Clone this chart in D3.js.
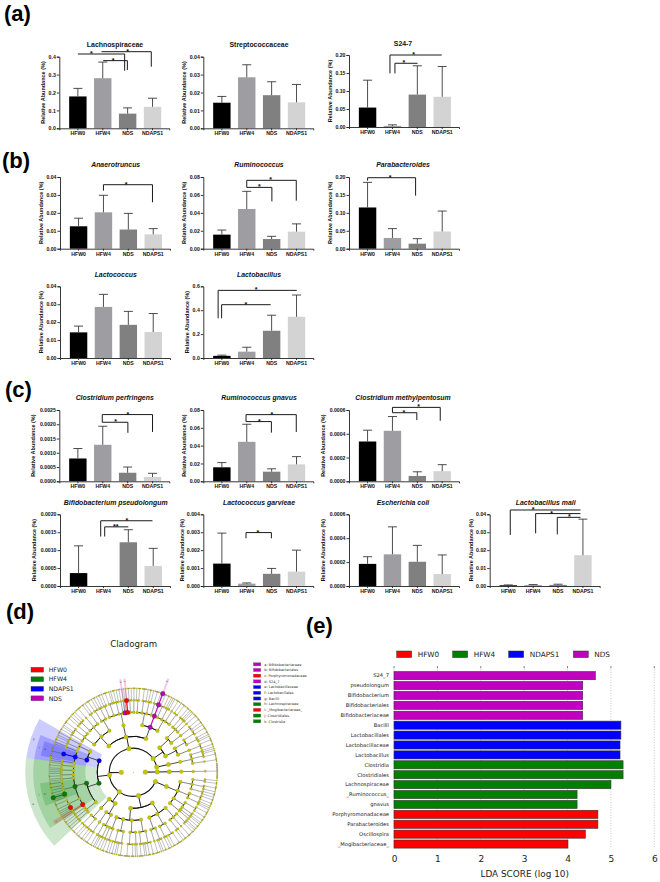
<!DOCTYPE html>
<html>
<head>
<meta charset="utf-8">
<script src="https://d3js.org/d3.v7.min.js"></script>
<style>
html,body{margin:0;padding:0;background:#fff}
svg{display:block}
text{font-family:"Liberation Sans",Arial,sans-serif}
.mpl text,text.mpl{font-family:"DejaVu Sans",sans-serif}
</style>
</head>
<body>
<svg id="fig" width="660" height="882" viewBox="0 0 660 882"></svg>
<script>
// ---------- DATA: bar charts (mean, top of the error bar) ----------
const groups = ["HFW0","HFW4","NDS","NDAPS1"];

const lachnospiraceaeMeans = [0.178,0.28,0.082,0.12];
const lachnospiraceaeTops  = [0.223,0.37,0.114,0.168];
const streptococcaceaeMeans = [0.0143,0.0285,0.0185,0.0145];
const streptococcaceaeTops  = [0.0178,0.0355,0.026,0.0245];
const s247Means = [0.054,0.003,0.09,0.084];
const s247Tops  = [0.13,0.006,0.17,0.168];
const anaerotruncusMeans = [0.0125,0.0203,0.0107,0.008];
const anaerotruncusTops  = [0.017,0.0298,0.0197,0.0112];
const ruminococcusMeans = [0.0157,0.0443,0.0108,0.019];
const ruminococcusTops  = [0.0208,0.064,0.0138,0.0277];
const parabacteroidesMeans = [0.115,0.03,0.014,0.048];
const parabacteroidesTops  = [0.185,0.056,0.028,0.105];
const lactococcusMeans = [0.0143,0.0285,0.0185,0.0145];
const lactococcusTops  = [0.0178,0.0355,0.026,0.0248];
const lactobacillusMeans = [0.018,0.053,0.228,0.345];
const lactobacillusTops  = [0.024,0.09,0.358,0.527];
const perfringensMeans = [0.0008,0.00128,0.0003,0.00015];
const perfringensTops  = [0.00115,0.00193,0.0005,0.00028];
const gnavusMeans = [0.0157,0.0443,0.0108,0.019];
const gnavusTops  = [0.021,0.064,0.014,0.0277];
const methylpentosumMeans = [0.000335,0.000425,0.000045,0.000085];
const methylpentosumTops  = [0.00043,0.000545,0.00008,0.00014];
const pseudolongumMeans = [0.00036,0,0.00122,0.00056];
const pseudolongumTops  = [0.00112,0,0.00157,0.00105];
const garvieaeMeans = [0.00125,0.00013,0.00068,0.0008];
const garvieaeTops  = [0.00295,0.00017,0.00098,0.002];
const coliMeans = [0.000185,0.000265,0.000203,0.0001];
const coliTops  = [0.000245,0.000495,0.00034,0.00026];
const maliMeans = [0.0004,0.0005,0.0006,0.0172];
const maliTops  = [0.0006,0.0008,0.001,0.0373];

// Significance brackets: [from group index, to group index, level, left drop, right drop, mark, mark position]
const lachnospiraceaeSig = [[0,1.88,.415,null,.322,"*",.54],[.95,2.95,.428,null,.344,"*",2],[1.02,1.99,.378,null,.326,"*",1.42]];
const s247Sig = [[.9,2.98,.2,.149,null,"*",1.85],[1.1,2.01,.177,.149,null,"*",1.46]];
const anaerotruncusSig = [[1,2.97,.0357,.0324,.0259,"*",1.91]];
const ruminococcusSig = [[1,2.01,.0684,null,.0528,"*",1.51],[1,2.99,.0763,.0684,.0536,"*",1.96]];
const parabacteroidesSig = [[0,1.93,.198,.19,.148,"*",.91]];
const lactobacillusSig = [[-.15,3.01,.566,.332,null,"*",1.38],[-.01,1.96,.446,.332,null,"*",.96]];
const perfringensSig = [[.98,2.01,.00207,null,.0017,"*",1.52],[.98,3,.00234,.00207,.00173,"*",2.01]];
const gnavusSig = [[.97,1.99,.067,null,.0546,"*",1.51],[.97,2.99,.0748,.067,.0553,"*",2.01]];
const methylpentosumSig = [[1,1.98,.000577,null,.000515,"*",1.46],[1,2.92,.000622,.000577,.00051,"*",2.05]];
const pseudolongumSig = [[1.05,2,.00165,.00138,null,"**",1.49],[.89,2.97,.00182,.00138,null,"*",1.94]];
const garvieaeSig = [[.97,1.99,.00298,.00266,.00266,"*",1.45]];
const maliSig = [[.08,2.9,.0424,.0285,null,"*",1],[1.1,2.9,.0404,.0294,null,"*",1.74],[1.97,2.9,.0383,.0288,null,"*",2.46]];

// ---------- DATA: LDA scores ----------
const ldaTaxa = ["S24_7","pseudolongum","Bifidobacterium","Bifidobacteriales","Bifidobacteriaceae","Bacilli","Lactobacillales","Lactobacillaceae","Lactobacillus","Clostridia","Clostridiales","Lachnospiraceae","_Ruminococcus_","gnavus","Porphyromonadaceae","Parabacteroides","Oscillospira","_Mogibacteriaceae_"];
const ldaScores = [4.64,4.35,4.35,4.35,4.35,5.23,5.23,5.21,5.21,5.28,5.28,5,4.22,4.22,4.7,4.7,4.41,4.01];
const ldaGroups = ["NDS","NDS","NDS","NDS","NDS","NDAPS1","NDAPS1","NDAPS1","NDAPS1","HFW4","HFW4","HFW4","HFW4","HFW4","HFW0","HFW0","HFW0","HFW0"];
const ldaTicks = [0,1,2,3,4,5,6];
const enrichGroups = ["HFW0","HFW4","NDAPS1","NDS"];
const cladeKey = [["a: Bifidobacteriaceae","NDS"],["b: Bifidobacteriales","NDS"],["c: Porphyromonadaceae","HFW0"],["d: S24_7","NDS"],["e: Lactobacillaceae","NDAPS1"],["f: Lactobacillales","NDAPS1"],["g: Bacilli","NDAPS1"],["h: Lachnospiraceae","HFW4"],["i: _Mogibacteriaceae_","HFW0"],["j: Clostridiales","HFW4"],["k: Clostridia","HFW4"]];

// ---------- DATA: cladogram ----------
// kingdom > phylum > class > order > family > genus; a number is a genus with that many species
const H = (group, kids, label) => ({group, kids, label});
const archaeaLike = [[[[[9]]]]];
const phylumA = [[[[1,2],[3,1],[2,1]],[[2,2],[1,1,1]],[[3,2],[2,1],[1]],[[2]]]];
const phylumB = [[[[1,1,2],[3],[2,1]],[[4,2],[1,2]],[[2,1,1],[3]]],[[[2,2,1],[1,3]],[[1,1],[2,4]],[[3,1],[1,2,1]],[[2,2],[1]]]];
const phylumC = [[[[2,1],[1,2]],[[3,1]]],[[[2,2],[1,3]]]];
const clostridiales = H("HFW4",[
  H("HFW0",[1,1],"i"),
  [1,H("HFW0",1),1,2,3],
  H("HFW4",[1,1,H("HFW4",[H("HFW4",[])]),1,2,1,2,2],"h"),
  [1,1],[2,1],[1,1,1],[2,1]],"j");
const lactobacillales = H("NDAPS1",[[1,1],H("NDAPS1",[H("NDAPS1",7)],"e"),[1,1]],"f");
const firmicutes = [
  H("HFW4",[[[1,2],[1],[2,1]],clostridiales],"k"),
  H("NDAPS1",[lactobacillales,[[2,1],[1,2]]],"g")];
const bacteroidetes = [
  [[[2,1],[1,3],[2]],[[1,2,1],[4],[2,1]],[[3,1],[2,1]]],
  [[[2,1],[3,1],[1,2,1],[2],H("NDS",[1],"a"),[1],H("HFW0",[H("HFW0",1)],"c"),[2,1],[2]]],
  [[[1,2],[3,1],[2,1],[3,1]],H("NDS",[H("NDS",[H("NDS",[H("NDS",[])])])],"d"),[[2,2],[1,1,1],[3],[1,3]]]];
const phylumE = [[[[2,1],[1,1],[3]],[[2,2]]],[[[1,3],[2,1,1]],[[3,2]]]];
const phylumF = [[[[1,1],[1,3],[3]]]];
const cladeTree = [archaeaLike,[phylumA,phylumB,phylumC,firmicutes,bacteroidetes,phylumE,phylumF]];

// ---------- LAYOUT ----------
const rowB1 = {base:248.7,top:177}, rowB2 = {base:358,top:286.3}, rowC1 = {base:481.3,top:410}, rowC2 = {base:586,top:514.3};
const panels = [
 {t:"Lachnospiraceae",m:lachnospiraceaeMeans,e:lachnospiraceaeTops,s:lachnospiraceaeSig,max:.4,step:.1,dec:1,ax:59.3,base:128.3,top:56.7,tx:115,ty:45,it:false},
 {t:"Streptococcaceae",m:streptococcaceaeMeans,e:streptococcaceaeTops,max:.04,step:.01,dec:2,ax:203.3,base:128.3,top:56.7,tx:259,ty:45,it:false},
 {t:"S24-7",m:s247Means,e:s247Tops,s:s247Sig,max:.2,step:.05,dec:2,ax:349,base:127,top:55,tx:403,ty:43.5,it:false},
 {t:"Anaerotruncus",m:anaerotruncusMeans,e:anaerotruncusTops,s:anaerotruncusSig,max:.04,step:.01,dec:2,ax:60,...rowB1,tx:115.7,ty:165,it:true},
 {t:"Ruminococcus",m:ruminococcusMeans,e:ruminococcusTops,s:ruminococcusSig,max:.08,step:.02,dec:2,ax:203.3,...rowB1,tx:259,ty:165,it:true},
 {t:"Parabacteroides",m:parabacteroidesMeans,e:parabacteroidesTops,s:parabacteroidesSig,max:.2,step:.05,dec:2,ax:349,...rowB1,tx:403,ty:165,it:true},
 {t:"Lactococcus",m:lactococcusMeans,e:lactococcusTops,max:.04,step:.01,dec:2,ax:60,...rowB2,tx:115.7,ty:274.3,it:true},
 {t:"Lactobacillus",m:lactobacillusMeans,e:lactobacillusTops,s:lactobacillusSig,max:.6,step:.2,dec:1,ax:203.3,...rowB2,tx:259,ty:274.3,it:true},
 {t:"Clostridium perfringens",m:perfringensMeans,e:perfringensTops,s:perfringensSig,max:.0025,step:.0005,dec:4,ax:59.3,...rowC1,tx:114.7,ty:398,it:true},
 {t:"Ruminococcus gnavus",m:gnavusMeans,e:gnavusTops,s:gnavusSig,max:.08,step:.02,dec:2,ax:203.3,...rowC1,tx:259,ty:398,it:true},
 {t:"Clostridium methylpentosum",m:methylpentosumMeans,e:methylpentosumTops,s:methylpentosumSig,max:.0006,step:.0002,dec:4,ax:349,...rowC1,tx:403,ty:398,it:true},
 {t:"Bifidobacterium pseudolongum",m:pseudolongumMeans,e:pseudolongumTops,s:pseudolongumSig,max:.002,step:.0005,dec:4,ax:60,...rowC2,tx:115.7,ty:502.7,it:true},
 {t:"Lactococcus garvieae",m:garvieaeMeans,e:garvieaeTops,s:garvieaeSig,max:.004,step:.001,dec:3,ax:203.3,...rowC2,tx:259,ty:502.7,it:true},
 {t:"Escherichia coli",m:coliMeans,e:coliTops,max:.0006,step:.0002,dec:4,ax:349,...rowC2,tx:403,ty:502.7,it:true},
 {t:"Lactobacillus mali",m:maliMeans,e:maliTops,s:maliSig,max:.04,step:.01,dec:2,ax:489.7,...rowC2,tx:545.7,ty:502.7,it:true}
];
const barColors = d3.scaleOrdinal(groups,["#000000","#9e9ea2","#808080","#d3d3d3"]);
const cladeColors = d3.scaleOrdinal(["HFW0","HFW4","NDAPS1","NDS"],["#ff0000","#008000","#0000ff","#bf00bf"]);
const svg = d3.select("#fig");

// panel letters
[["(a)",4,21],["(b)",2,168],["(c)",5,397],["(d)",6,619],["(e)",306,633]].forEach(([s,x,y])=>{
  svg.append("text").attr("x",x).attr("y",y).attr("font-size",22).attr("font-weight",700).text(s);
});

// ---------- bar panels ----------
const titleOffset = {1:14,2:17,3:19,4:24};
panels.forEach(p=>{
  const g = svg.append("g");
  const x = d3.scaleBand().domain(groups).range([p.ax,p.ax+110]).paddingInner(.3).paddingOuter(.36).align(.55);
  const y = d3.scaleLinear().domain([0,p.max]).range([p.base,p.top]);
  const pos = d3.scaleLinear().domain([0,1]).range([x(groups[0])+x.bandwidth()/2,x(groups[1])+x.bandwidth()/2]);

  g.selectAll("rect").data(groups).join("rect")
    .attr("x",d=>x(d)).attr("width",x.bandwidth())
    .attr("y",(d,i)=>y(p.m[i])).attr("height",(d,i)=>p.base-y(p.m[i]))
    .attr("fill",d=>barColors(d));

  const errs = groups.map((d,i)=>({d,m:p.m[i],e:p.e[i]})).filter(o=>o.e>0);
  const cx = o=>x(o.d)+x.bandwidth()/2;
  g.selectAll("line.err").data(errs).join("line").attr("class","err")
    .attr("x1",cx).attr("x2",cx).attr("y1",o=>y(o.m)).attr("y2",o=>y(o.e))
    .attr("stroke","#3a3a3a").attr("stroke-width",.9);
  g.selectAll("line.cap").data(errs).join("line").attr("class","cap")
    .attr("x1",o=>cx(o)-4.5).attr("x2",o=>cx(o)+4.5).attr("y1",o=>y(o.e)).attr("y2",o=>y(o.e))
    .attr("stroke","#3a3a3a").attr("stroke-width",.9);

  const yAxis = d3.axisLeft(y).tickValues(d3.range(0,p.max+p.step/2,p.step)).tickFormat(d3.format("."+p.dec+"f")).tickSize(2.5).tickPadding(1);
  const xAxis = d3.axisBottom(x).tickSize(2).tickPadding(1.5);
  [g.append("g").attr("transform",`translate(${p.ax},0)`).call(yAxis),
   g.append("g").attr("transform",`translate(0,${p.base})`).call(xAxis)].forEach(a=>{
    a.selectAll("text").attr("font-size",5.2).attr("font-weight",700).attr("font-family","Liberation Sans").attr("fill","#111");
    a.selectAll("path,line").attr("stroke","#222").attr("stroke-width",.9);
  });

  g.append("text").attr("x",p.tx).attr("y",p.ty).attr("dy",".35em").attr("text-anchor","middle")
    .attr("font-size",6.9).attr("font-weight",700).attr("font-style",p.it?"italic":"normal").attr("fill","#111").text(p.t);
  g.append("text").attr("transform",`translate(${p.ax-titleOffset[p.dec]},${(p.base+p.top)/2}) rotate(-90)`)
    .attr("text-anchor","middle").attr("font-size",5.5).attr("font-weight",700).attr("fill","#111").text("Relative Abundance (%)");

  (p.s||[]).forEach(([a,b,lvl,dl,dr,mark,mp])=>{
    const path = d3.path();
    if(dl!==null){path.moveTo(pos(a),y(dl));path.lineTo(pos(a),y(lvl));} else path.moveTo(pos(a),y(lvl));
    path.lineTo(pos(b),y(lvl));
    if(dr!==null) path.lineTo(pos(b),y(dr));
    g.append("path").attr("d",path.toString()).attr("fill","none").attr("stroke","#1a1a1a").attr("stroke-width",1);
    g.append("text").attr("x",pos(mp)).attr("y",y(lvl)+2).attr("text-anchor","middle").attr("font-size",7).attr("font-weight",700).attr("fill","#111").text(mark);
  });
});

// ---------- cladogram ----------
(function(){
  const c = svg.append("g").attr("class","mpl");
  c.append("text").attr("class","mpl").attr("x",133.7).attr("y",644).attr("dy",".35em").attr("text-anchor","middle").attr("font-size",8.6).attr("fill","#222").text("Cladogram");
  const SPECIES = {kids:[]};
  const kidsOf = d => typeof d==="number" ? d3.range(d).map(()=>SPECIES) : Array.isArray(d) ? d : d.kids===undefined ? [] : typeof d.kids==="number" ? d3.range(d.kids).map(()=>SPECIES) : d.kids;
  const root = d3.hierarchy(cladeTree,kidsOf);
  const leaves = root.leaves();
  const ang = d3.scaleLinear().domain([0,leaves.length]).range([84,444]);
  const rad = d3.scaleLinear().domain([0,7]).range([0,84]);
  const wedgeOuter = d3.scaleOrdinal([3,4,5,6,7],[108,100,94,89,86]);
  const nodeSize = d3.scaleOrdinal([0,1,2,3,4,5,6,7],[.4,2.4,2.4,2.2,1.9,1.5,1.15,.7]);
  const lineW = d3.scaleOrdinal([1,2,3,4,5,6,7],[.9,1.1,1,.8,.55,.4,.28]);
  const rd = Math.PI/180;
  leaves.forEach((l,i)=>{l.a0=l.a1=l.a=ang(i);});
  root.eachAfter(n=>{ if(n.children){n.a0=n.children[0].a0;n.a1=n.children[n.children.length-1].a1;n.a=(n.a0+n.a1)/2;} });
  const g = c.append("g").attr("transform","translate(133.3,772.3)");
  const arc = d3.arc();
  const groupOf = d => d && d.group ? d.group : null;
  const marked = root.descendants().filter(n=>groupOf(n.data));

  // shaded clade wedges, outermost level first
  marked.filter(n=>n.data.label).sort((a,b)=>a.depth-b.depth).forEach(n=>{
    g.append("path").attr("d",arc({innerRadius:rad(n.depth),outerRadius:wedgeOuter(n.depth),startAngle:(n.a0-.66)*rd,endAngle:(n.a1+.66)*rd}))
      .attr("fill",cladeColors(n.data.group)).attr("fill-opacity",.2);
  });
  // ring arcs and spokes
  root.descendants().filter(n=>n.depth>0&&n.children).forEach(n=>{
    const r0=rad(n.depth), r1=rad(n.depth+1), w=lineW(n.depth+1);
    const col = groupOf(n.data)&&n.children.length===1&&groupOf(n.children[0].data) ? cladeColors(n.data.group) : "#222";
    const [x0,y0]=d3.pointRadial(n.a*rd,r0),[x1,y1]=d3.pointRadial(n.a*rd,r1);
    g.append("line").attr("x1",x0).attr("y1",y0).attr("x2",x1).attr("y2",y1).attr("stroke",col).attr("stroke-width",Math.max(w,col==="#222"?w:1.1));
    const first=n.children[0].a,last=n.children[n.children.length-1].a;
    if(last>first){
      g.append("path").attr("d",arc({innerRadius:r1,outerRadius:r1,startAngle:first*rd,endAngle:last*rd})).attr("fill","none").attr("stroke","#111").attr("stroke-width",w);
    }
    n.children.filter(k=>k.children&&k.children.length>1&&false);
  });
  // leaves and nodes
  root.descendants().filter(n=>!groupOf(n.data)).forEach(n=>{
    const [px,py]=d3.pointRadial(n.a*rd,rad(n.depth));
    g.append("circle").attr("cx",px).attr("cy",py).attr("r",nodeSize(n.depth)).attr("fill","#c4c400").attr("stroke","#666").attr("stroke-width",.15);
  });
  marked.forEach(n=>{
    const [px,py]=d3.pointRadial(n.a*rd,rad(n.depth));
    g.append("circle").attr("cx",px).attr("cy",py).attr("r",2.3).attr("fill",cladeColors(n.data.group)).attr("stroke","#222").attr("stroke-width",.25);
  });
  // tiny clade letters
  marked.filter(n=>n.data.label).forEach(n=>{
    const [px,py]=d3.pointRadial(n.a*rd,wedgeOuter(n.depth)-3);
    g.append("text").attr("class","mpl").attr("transform",`translate(${px},${py}) rotate(${n.a<180?n.a-90:n.a+90})`)
      .attr("text-anchor","middle").attr("dy",".35em").attr("font-size",2.6).attr("fill","#333").text(n.data.label);
  });

  // group legend
  const legendY = d3.scalePoint().domain(enrichGroups).range([669.7,698.3]);
  enrichGroups.forEach(k=>{
    c.append("rect").attr("x",31).attr("y",legendY(k)-2.4).attr("width",12.6).attr("height",4.8).attr("fill",cladeColors(k)).attr("stroke","#444").attr("stroke-width",.4);
    c.append("text").attr("class","mpl").attr("x",48.7).attr("y",legendY(k)).attr("dy",".36em").attr("font-size",6.2).attr("fill","#222").text(k);
  });
  // clade key
  cladeKey.forEach(([s,k],i)=>{
    const yy=664.3+i*5.7;
    c.append("rect").attr("x",253.4).attr("y",yy-1.6).attr("width",7.4).attr("height",3.2).attr("fill",cladeColors(k)).attr("stroke","#666").attr("stroke-width",.3);
    c.append("text").attr("class","mpl").attr("x",264.3).attr("y",yy).attr("dy",".35em").attr("font-size",3.5).attr("fill","#333").text(s);
  });
})();

// ---------- LDA bars ----------
(function(){
  const e = svg.append("g").attr("class","mpl");
  const x = d3.scaleLinear().domain([0,6]).range([394,654.3]);
  const y = d3.scaleBand().domain(ldaTaxa).range([670.7,849]).paddingInner(.18).paddingOuter(.09);
  e.selectAll("line.grid").data(ldaTicks).join("line").attr("class","grid")
    .attr("x1",d=>x(d)).attr("x2",d=>x(d)).attr("y1",666.7).attr("y2",848)
    .attr("stroke","#888").attr("stroke-width",.5).attr("stroke-dasharray","1,1.6");
  e.selectAll("line.tick").data(ldaTicks).join("line").attr("class","tick")
    .attr("x1",d=>x(d)).attr("x2",d=>x(d)).attr("y1",666.2).attr("y2",668.2).attr("stroke","#333").attr("stroke-width",.6);
  e.selectAll("rect").data(ldaTaxa).join("rect")
    .attr("x",x(0)).attr("y",d=>y(d)).attr("height",y.bandwidth())
    .attr("width",(d,i)=>x(ldaScores[i])-x(0))
    .attr("fill",(d,i)=>cladeColors(ldaGroups[i]))
    .attr("stroke","#333").attr("stroke-width",.6);
  e.selectAll("text.taxon").data(ldaTaxa).join("text").attr("class","taxon mpl")
    .attr("x",389).attr("y",d=>y(d)+y.bandwidth()/2).attr("dy",".35em").attr("text-anchor","end")
    .attr("font-size",5.2).attr("fill","#222").text(d=>d);
  const ax = d3.axisBottom(x).tickValues(ldaTicks).tickSize(0).tickPadding(0).tickFormat(d3.format("d"));
  const axG = e.append("g").attr("transform","translate(0,856)").call(ax);
  axG.select(".domain").remove();
  axG.selectAll("text").attr("font-size",9).attr("font-family","DejaVu Sans").attr("fill","#222");
  e.append("text").attr("class","mpl").attr("x",524.7).attr("y",874).attr("dy",".35em").attr("text-anchor","middle").attr("font-size",8.9).attr("fill","#222").text("LDA SCORE (log 10)");
  const lx = d3.scaleOrdinal(enrichGroups,[396.7,452.7,508.7,573.3]);
  enrichGroups.forEach(k=>{
    e.append("rect").attr("x",lx(k)).attr("y",651).attr("width",15).attr("height",6.6).attr("fill",cladeColors(k)).attr("stroke","#333").attr("stroke-width",.5);
    e.append("text").attr("class","mpl").attr("x",lx(k)+21).attr("y",654.3).attr("dy",".36em").attr("font-size",7.3).attr("fill","#222").text(k);
  });
})();
</script>
</body>
</html>
